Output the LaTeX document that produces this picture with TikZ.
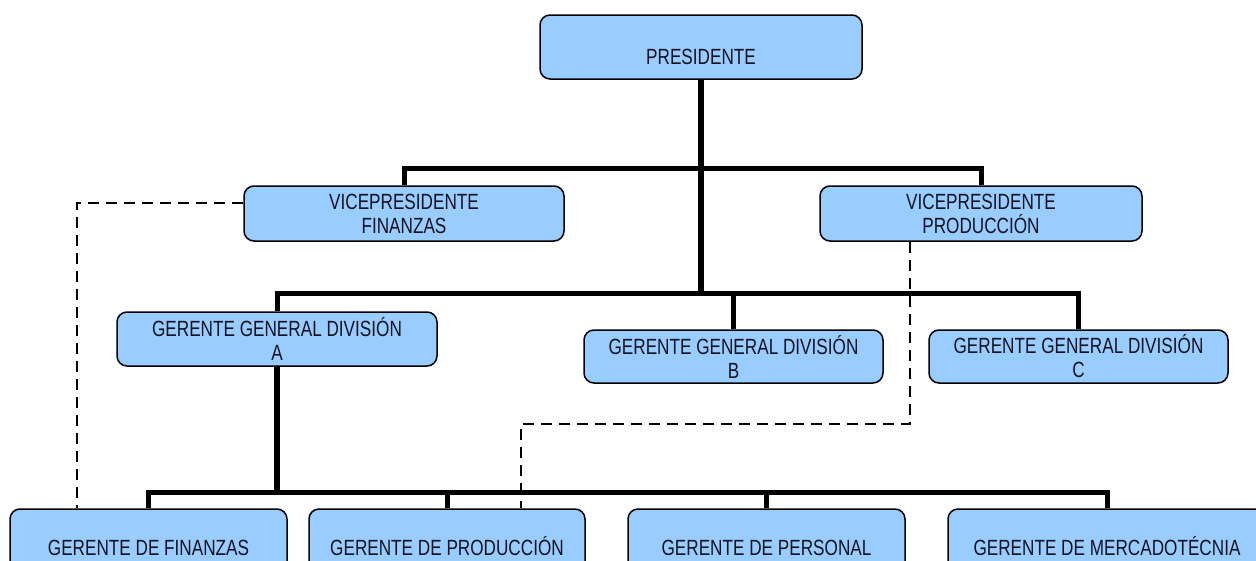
\documentclass[tikz,border=0pt]{standalone}
\usepackage{fontspec}
\setmainfont{Liberation Sans}[FakeStretch=0.78]
\definecolor{boxblue}{HTML}{99CCFF}
\definecolor{textdark}{HTML}{141420}
\begin{document}
\begin{tikzpicture}[x=1pt,y=-1pt,
  box/.style={draw=black, line width=1.5pt, rounded corners=10pt, fill=boxblue,
    align=center, inner sep=0pt, text=textdark,
    font=\fontsize{22}{24}\selectfont},
  oneline/.style={text height=34pt, text depth=0pt},
  lowline/.style={text height=28pt, text depth=0pt},
  spine/.style={line width=6pt},
  link/.style={line width=5pt},
  staff/.style={line width=1.5pt, dash pattern=on 11pt off 7pt}]
\useasboundingbox (0,0) rectangle (1256,560);
\clip (0,0) rectangle (1256,560);

% boxes
\node[box, oneline, minimum width=322pt, minimum height=64pt] (pres) at (701,47) {PRESIDENTE};
\node[box, minimum width=320pt, minimum height=55pt] (vpf) at (404,213.5) {VICEPRESIDENTE\\FINANZAS};
\node[box, minimum width=322pt, minimum height=55pt] (vpp) at (981,213.5) {VICEPRESIDENTE\\PRODUCCIÓN};
\node[box, minimum width=320pt, minimum height=54pt] (gga) at (277,339) {GERENTE GENERAL DIVISIÓN\\A};
\node[box, minimum width=299pt, minimum height=53pt] (ggb) at (733.5,356.5) {GERENTE GENERAL DIVISIÓN\\B};
\node[box, minimum width=299pt, minimum height=53pt] (ggc) at (1078.5,356.5) {GERENTE GENERAL DIVISIÓN\\C};
\node[box, lowline, minimum width=277pt, minimum height=64pt] (gf) at (148.5,541) {GERENTE DE FINANZAS};
\node[box, lowline, minimum width=276pt, minimum height=64pt] (gp) at (447,541) {GERENTE DE PRODUCCIÓN};
\node[box, lowline, minimum width=277pt, minimum height=64pt] (gper) at (766.5,541) {GERENTE DE PERSONAL};
\node[box, lowline, minimum width=318pt, minimum height=64pt] (gm) at (1107,541) {GERENTE DE MERCADOTÉCNIA};

% junctions of the reporting lines
\coordinate (j1) at (701,168);
\coordinate (j2) at (701,293);
\coordinate (j3) at (277,492);

% line authority
\draw[spine] (pres.south) -- (j1) -- (j2);
\draw[link] (j1) -| (vpf.north);
\draw[link] (j1) -| (vpp.north);
\draw[link] (j2) -| (gga.north);
\draw[link] (j2) -| (ggb.north);
\draw[link] (j2) -| (ggc.north);
\draw[spine] (gga.south) -- (j3);
\draw[link] (j3) -| (gf.north);
\draw[link] (j3) -| (gp.north);
\draw[link] (j3) -| (gper.north);
\draw[link] (j3) -| (gm.north);

% functional (staff) relations
\coordinate (df) at (77,203);
\draw[staff] ([yshift=10.5pt]vpf.west) -- (df) -- (df |- gf.north);
\coordinate (dp1) at (910,424);
\coordinate (dp2) at (521,424);
\draw[staff] (dp1 |- vpp.south) -- (dp1) -- (dp2) -- (dp2 |- gp.north);
\end{tikzpicture}
\end{document}
